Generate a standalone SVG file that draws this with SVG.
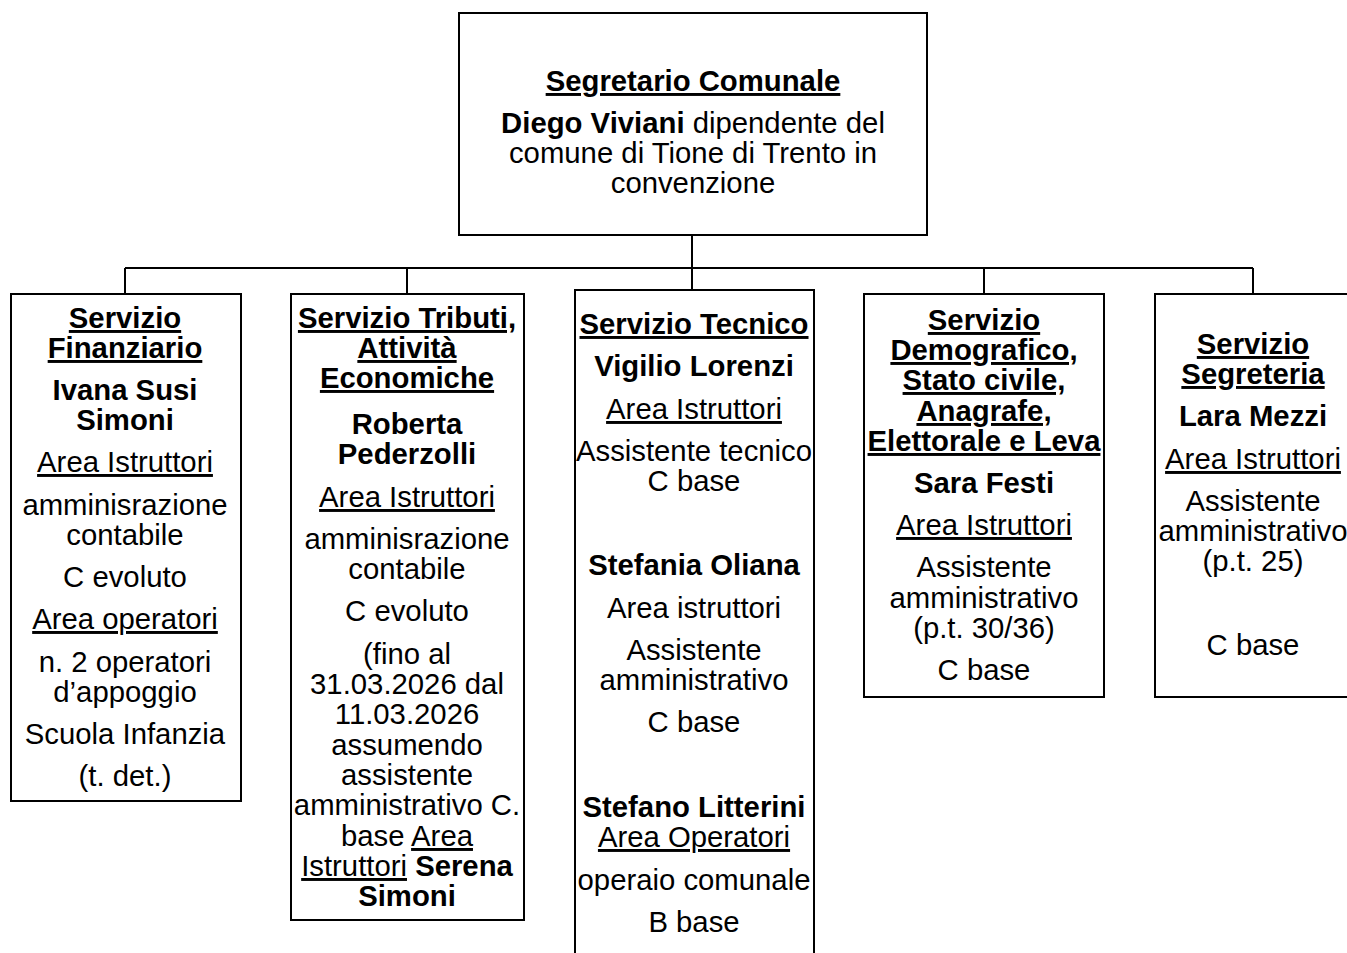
<svg xmlns="http://www.w3.org/2000/svg" width="1347" height="953" viewBox="0 0 1347 953">
<style>
text{font-family:"Liberation Sans",Arial,sans-serif;font-size:29.3px;fill:#000;text-anchor:middle}
.b{font-weight:bold}
.u{text-decoration:underline}
.box{fill:#fff;stroke:#000;stroke-width:2}
.con{fill:none;stroke:#000;stroke-width:2}
</style>
<rect width="1347" height="953" fill="#fff"/>
<g id="connectors" class="con">
<path d="M692 235V290"/>
<path d="M125 268H1253"/>
<path d="M125 268V294M407 268V294M984 268V294M1253 268V294"/>
</g>
<g id="root">
<rect class="box" x="459" y="13" width="468" height="222"/>
<text x="693" y="91" class="b u">Segretario Comunale</text>
<text x="693" y="133"><tspan class="b">Diego Viviani</tspan> dipendente del</text>
<text x="693" y="163">comune di Tione di Trento in</text>
<text x="693" y="193">convenzione</text>
</g>
<g id="finanziario">
<rect class="box" x="11" y="294" width="230" height="507"/>
<text x="125" y="328" class="b u">Servizio</text>
<text x="125" y="358" class="b u">Finanziario</text>
<text x="125" y="400" class="b">Ivana Susi</text>
<text x="125" y="430" class="b">Simoni</text>
<text x="125" y="472" class="u">Area Istruttori</text>
<text x="125" y="515">amminisrazione</text>
<text x="125" y="545">contabile</text>
<text x="125" y="587">C evoluto</text>
<text x="125" y="629" class="u">Area operatori</text>
<text x="125" y="672">n. 2 operatori</text>
<text x="125" y="702">d’appoggio</text>
<text x="125" y="744">Scuola Infanzia</text>
<text x="125" y="786">(t. det.)</text>
</g>
<g id="tributi">
<rect class="box" x="291" y="294" width="233" height="626"/>
<text x="407" y="328" class="b u">Servizio Tributi,</text>
<text x="407" y="358" class="b u">Attività</text>
<text x="407" y="388" class="b u">Economiche</text>
<text x="407" y="434" class="b">Roberta</text>
<text x="407" y="464" class="b">Pederzolli</text>
<text x="407" y="507" class="u">Area Istruttori</text>
<text x="407" y="549">amminisrazione</text>
<text x="407" y="579">contabile</text>
<text x="407" y="621">C evoluto</text>
<text x="407" y="664">(fino al</text>
<text x="407" y="694">31.03.2026 dal</text>
<text x="407" y="724">11.03.2026</text>
<text x="407" y="755">assumendo</text>
<text x="407" y="785">assistente</text>
<text x="407" y="815">amministrativo C.</text>
<text x="407" y="846">base <tspan class="u">Area</tspan></text>
<text x="407" y="876"><tspan class="u">Istruttori</tspan> <tspan class="b">Serena</tspan></text>
<text x="407" y="906" class="b">Simoni</text>
</g>
<g id="tecnico">
<path class="box" d="M575 953V290H814V953"/>
<text x="694" y="334" class="b u">Servizio Tecnico</text>
<text x="694" y="376" class="b">Vigilio Lorenzi</text>
<text x="694" y="419" class="u">Area Istruttori</text>
<text x="694" y="461">Assistente tecnico</text>
<text x="694" y="491">C base</text>
<text x="694" y="575" class="b">Stefania Oliana</text>
<text x="694" y="618">Area istruttori</text>
<text x="694" y="660">Assistente</text>
<text x="694" y="690">amministrativo</text>
<text x="694" y="732">C base</text>
<text x="694" y="817" class="b">Stefano Litterini</text>
<text x="694" y="847" class="u">Area Operatori</text>
<text x="694" y="890">operaio comunale</text>
<text x="694" y="932">B base</text>
</g>
<g id="demografico">
<rect class="box" x="864" y="294" width="240" height="403"/>
<text x="984" y="330" class="b u">Servizio</text>
<text x="984" y="360" class="b u">Demografico,</text>
<text x="984" y="390" class="b u">Stato civile,</text>
<text x="984" y="421" class="b u">Anagrafe,</text>
<text x="984" y="451" class="b u">Elettorale e Leva</text>
<text x="984" y="493" class="b">Sara Festi</text>
<text x="984" y="535" class="u">Area Istruttori</text>
<text x="984" y="577">Assistente</text>
<text x="984" y="608">amministrativo</text>
<text x="984" y="638">(p.t. 30/36)</text>
<text x="984" y="680">C base</text>
</g>
<g id="segreteria">
<path class="box" d="M1347 294H1155V697H1347"/>
<text x="1253" y="354" class="b u">Servizio</text>
<text x="1253" y="384" class="b u">Segreteria</text>
<text x="1253" y="426" class="b">Lara Mezzi</text>
<text x="1253" y="469" class="u">Area Istruttori</text>
<text x="1253" y="511">Assistente</text>
<text x="1253" y="541">amministrativo</text>
<text x="1253" y="571">(p.t. 25)</text>
<text x="1253" y="655">C base</text>
</g>
</svg>
